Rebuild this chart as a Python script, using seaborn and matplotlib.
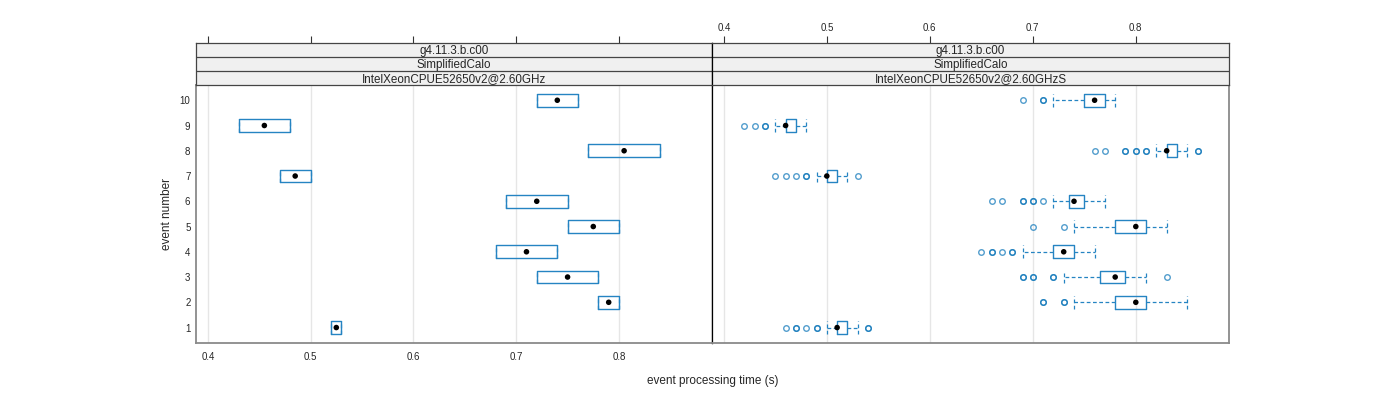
import matplotlib
matplotlib.use("Agg")
import matplotlib.pyplot as plt
import seaborn as sns
import numpy as np

# ------------------------------------------------------------------
# data (seconds)
# ------------------------------------------------------------------
events = [1, 2, 3, 4, 5, 6, 7, 8, 9, 10]
tick_vals = [0.4, 0.5, 0.6, 0.7, 0.8]

strip_top = "g4.11.3.b.c00"
strip_mid = "SimplifiedCalo"
cpu_left = "IntelXeonCPUE52650v2@2.60GHz"
cpu_right = "IntelXeonCPUE52650v2@2.60GHzS"

# left panel: only a handful of runs, box only
left_q1 = [0.52, 0.78, 0.72, 0.68, 0.75, 0.69, 0.47, 0.77, 0.43, 0.72]
left_med = [0.525, 0.79, 0.75, 0.71, 0.775, 0.72, 0.485, 0.805, 0.455, 0.74]
left_q3 = [0.53, 0.80, 0.78, 0.74, 0.80, 0.75, 0.50, 0.84, 0.48, 0.76]

# right panel: full box-and-whisker summaries
right_wlo = [0.50, 0.74, 0.73, 0.69, 0.74, 0.72, 0.49, 0.82, 0.45, 0.72]
right_q1 = [0.51, 0.78, 0.765, 0.72, 0.78, 0.735, 0.50, 0.83, 0.46, 0.75]
right_med = [0.51, 0.80, 0.78, 0.73, 0.80, 0.74, 0.50, 0.83, 0.46, 0.76]
right_q3 = [0.52, 0.81, 0.79, 0.74, 0.81, 0.75, 0.51, 0.84, 0.47, 0.77]
right_whi = [0.53, 0.85, 0.81, 0.76, 0.83, 0.77, 0.52, 0.85, 0.48, 0.78]
right_out = [
    [0.46, 0.47, 0.47, 0.48, 0.49, 0.49, 0.54, 0.54],
    [0.71, 0.71, 0.73, 0.73],
    [0.69, 0.69, 0.70, 0.70, 0.72, 0.72, 0.83],
    [0.65, 0.66, 0.66, 0.67, 0.68, 0.68],
    [0.70, 0.73],
    [0.66, 0.67, 0.69, 0.69, 0.70, 0.70, 0.71],
    [0.45, 0.46, 0.47, 0.48, 0.48, 0.53],
    [0.76, 0.77, 0.79, 0.79, 0.80, 0.80, 0.81, 0.81, 0.86, 0.86],
    [0.42, 0.43, 0.44, 0.44],
    [0.69, 0.71, 0.71],
]

# ------------------------------------------------------------------
# style
# ------------------------------------------------------------------
sns.set_style("white")
plt.rcParams['font.family'] = ['Liberation Sans', 'DejaVu Sans']

BLUE = '#2584c2'
FRAME = '#8a8a8a'
XLIM = (0.3885, 0.8905)
YLIM = (0.4, 10.6)

fig = plt.figure(figsize=(14, 4), dpi=100)

pan_y0, pan_h = 0.14325, 0.644
strip_y0, strip_h = 0.78725, 0.1065
lx0, rx0, rx1 = 0.14, 0.50857, 0.87786

ax_l = fig.add_axes([lx0, pan_y0, rx0 - lx0, pan_h])
ax_r = fig.add_axes([rx0, pan_y0, rx1 - rx0, pan_h])
st_l = fig.add_axes([lx0, strip_y0, rx0 - lx0, strip_h])
st_r = fig.add_axes([rx0, strip_y0, rx1 - rx0, strip_h])


def make_stats(q1, med, q3, wlo, whi, fliers):
    out = []
    for i in range(len(events)):
        out.append(dict(q1=q1[i], med=med[i], q3=q3[i], whislo=wlo[i],
                        whishi=whi[i], fliers=fliers[i]))
    return out


left_stats = make_stats(left_q1, left_med, left_q3, left_q1, left_q3,
                        [[] for _ in events])
right_stats = make_stats(right_q1, right_med, right_q3, right_wlo, right_whi,
                         right_out)

for ax, stats, meds in [(ax_l, left_stats, left_med), (ax_r, right_stats, right_med)]:
    for t in tick_vals:
        ax.axvline(t, color='#e6e6e6', lw=1.0, zorder=0)
    ax.bxp(stats, positions=events, vert=False, widths=0.5, capwidths=0.5,
           showfliers=True, patch_artist=False,
           boxprops=dict(color=BLUE, lw=1.0),
           whiskerprops=dict(color=BLUE, lw=0.9, ls=(0, (3, 2))),
           capprops=dict(color=BLUE, lw=0.9, ls=(0, (3, 2))),
           medianprops=dict(lw=0),
           flierprops=dict(marker='o', markersize=4, markerfacecolor='none',
                           markeredgecolor='#0a74b8', markeredgewidth=1.0,
                           alpha=0.7, ls='none'))
    sns.scatterplot(x=meds, y=events, ax=ax, color='black', s=16,
                    edgecolor='none', zorder=5, legend=False)
    ax.set_xlim(*XLIM)
    ax.set_ylim(*YLIM)
    ax.set_xticks(tick_vals)
    ax.set_yticks(events)
    ax.set_xlabel('')
    ax.set_ylabel('')
    for sp in ax.spines.values():
        sp.set_visible(True)
        sp.set_color(FRAME)
        sp.set_linewidth(1.3)
    ax.tick_params(axis='x', direction='out', length=5, width=0.8,
                   color='#333333', labelsize=7, pad=2)
    ax.tick_params(axis='y', length=0, labelsize=7, pad=4)

ax_l.set_yticklabels([str(e) for e in events])
ax_r.set_yticklabels([])
ax_r.set_xticklabels([])
ax_l.set_xticklabels([str(t) for t in tick_vals])
ax_l.spines['right'].set_color('black')
ax_l.spines['right'].set_linewidth(0.9)
ax_r.spines['left'].set_color('black')
ax_r.spines['left'].set_linewidth(0.9)

# strips with top axis
for st, cpu, show in [(st_l, cpu_left, False), (st_r, cpu_right, True)]:
    st.set_xlim(*XLIM)
    st.set_ylim(0, 3)
    st.axhspan(0, 3, color='#f0f0f0', zorder=0)
    for yy in [1, 2]:
        st.axhline(yy, color='#444444', lw=0.9)
    for yy, lab in zip([2.5, 1.5, 0.5], [strip_top, strip_mid, cpu]):
        st.text(np.mean(XLIM), yy, lab, ha='center', va='center_baseline',
                fontsize=8.4)
    st.set_yticks([])
    st.xaxis.tick_top()
    st.set_xticks(tick_vals)
    st.set_xticklabels([str(t) for t in tick_vals] if show else [])
    st.tick_params(axis='x', direction='out', length=5, width=0.8,
                   color='#333333', labelsize=7, pad=2)
    for sp in st.spines.values():
        sp.set_visible(True)
        sp.set_color('#444444')
        sp.set_linewidth(0.9)
st_l.spines['right'].set_color('black')
st_r.spines['left'].set_color('black')

fig.text(0.509, 0.0475, 'event processing time (s)', ha='center', va='center',
         fontsize=8.5)
fig.text(0.119, 0.465, 'event number', ha='center', va='center',
         rotation=90, fontsize=8.5)

fig.savefig('out.png', dpi=100)
